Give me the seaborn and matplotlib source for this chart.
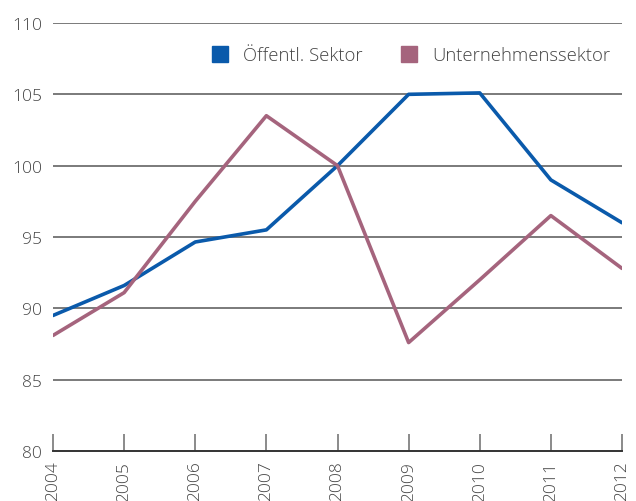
import matplotlib
matplotlib.use("Agg")
import matplotlib.pyplot as plt
import seaborn as sns
import pandas as pd
from matplotlib.lines import Line2D

years = [2004, 2005, 2006, 2007, 2008, 2009, 2010, 2011, 2012]
oeffentl = [89.5, 91.6, 94.65, 95.5, 100.0, 105.0, 105.1, 99.0, 96.0]
unternehmen = [88.1, 91.1, 97.5, 103.5, 100.0, 87.6, 92.0, 96.5, 92.8]
series_names = ["Öffentl. Sektor", "Unternehmenssektor"]
colors = ["#0a5aab", "#a5647d"]
yticks = [80, 85, 90, 95, 100, 105, 110]

df = pd.DataFrame({
    "Jahr": years * 2,
    "Wert": oeffentl + unternehmen,
    "Sektor": [series_names[0]] * len(years) + [series_names[1]] * len(years),
})

sns.set_style("white")
plt.rcParams['font.family'] = ['Open Sans', 'DejaVu Sans']
plt.rcParams['font.weight'] = 300
text_color = "#444444"

fig = plt.figure(figsize=(6.36, 5.02), dpi=100)
ax = fig.add_axes([53/636, 1 - 452/502, (622-53)/636, (452-24)/502])

sns.lineplot(data=df, x="Jahr", y="Wert", hue="Sektor", palette=colors,
             linewidth=2.6, ax=ax, legend=False)

ax.set_xlim(2004, 2012)
ax.set_ylim(80, 110)
ax.set_yticks(yticks)
ax.set_yticklabels([str(v) for v in yticks])
ax.set_xticks(years)
ax.set_xticklabels([str(y) for y in years], rotation=90, va="top", ha="center")
for v in yticks[1:]:
    ax.axhline(v, color="#7a7a7a", linewidth=1.4, zorder=0)

for s in ["top", "right", "left"]:
    ax.spines[s].set_visible(False)
ax.spines["bottom"].set_color("#333333")
ax.spines["bottom"].set_linewidth(1.4)
ax.tick_params(axis="x", bottom=True, direction="in", length=12, width=1.2, color="#777777",
               labelsize=12.5, labelcolor=text_color, pad=7)
ax.tick_params(axis="y", left=False, length=0, labelsize=12.5, labelcolor=text_color, pad=8)
ax.set_xlabel("")
ax.set_ylabel("")

handles = [Line2D([], [], marker="s", linestyle="", markersize=11,
                  markerfacecolor=c, markeredgecolor=c) for c in colors]
leg = ax.legend(handles, series_names, loc="upper right", bbox_to_anchor=(1.008, 0.985),
                ncol=2, frameon=False, fontsize=13.3, handletextpad=0.75,
                columnspacing=2.0, handlelength=1.0)
for t in leg.get_texts():
    t.set_color(text_color)

fig.savefig("out.png", dpi=100)
